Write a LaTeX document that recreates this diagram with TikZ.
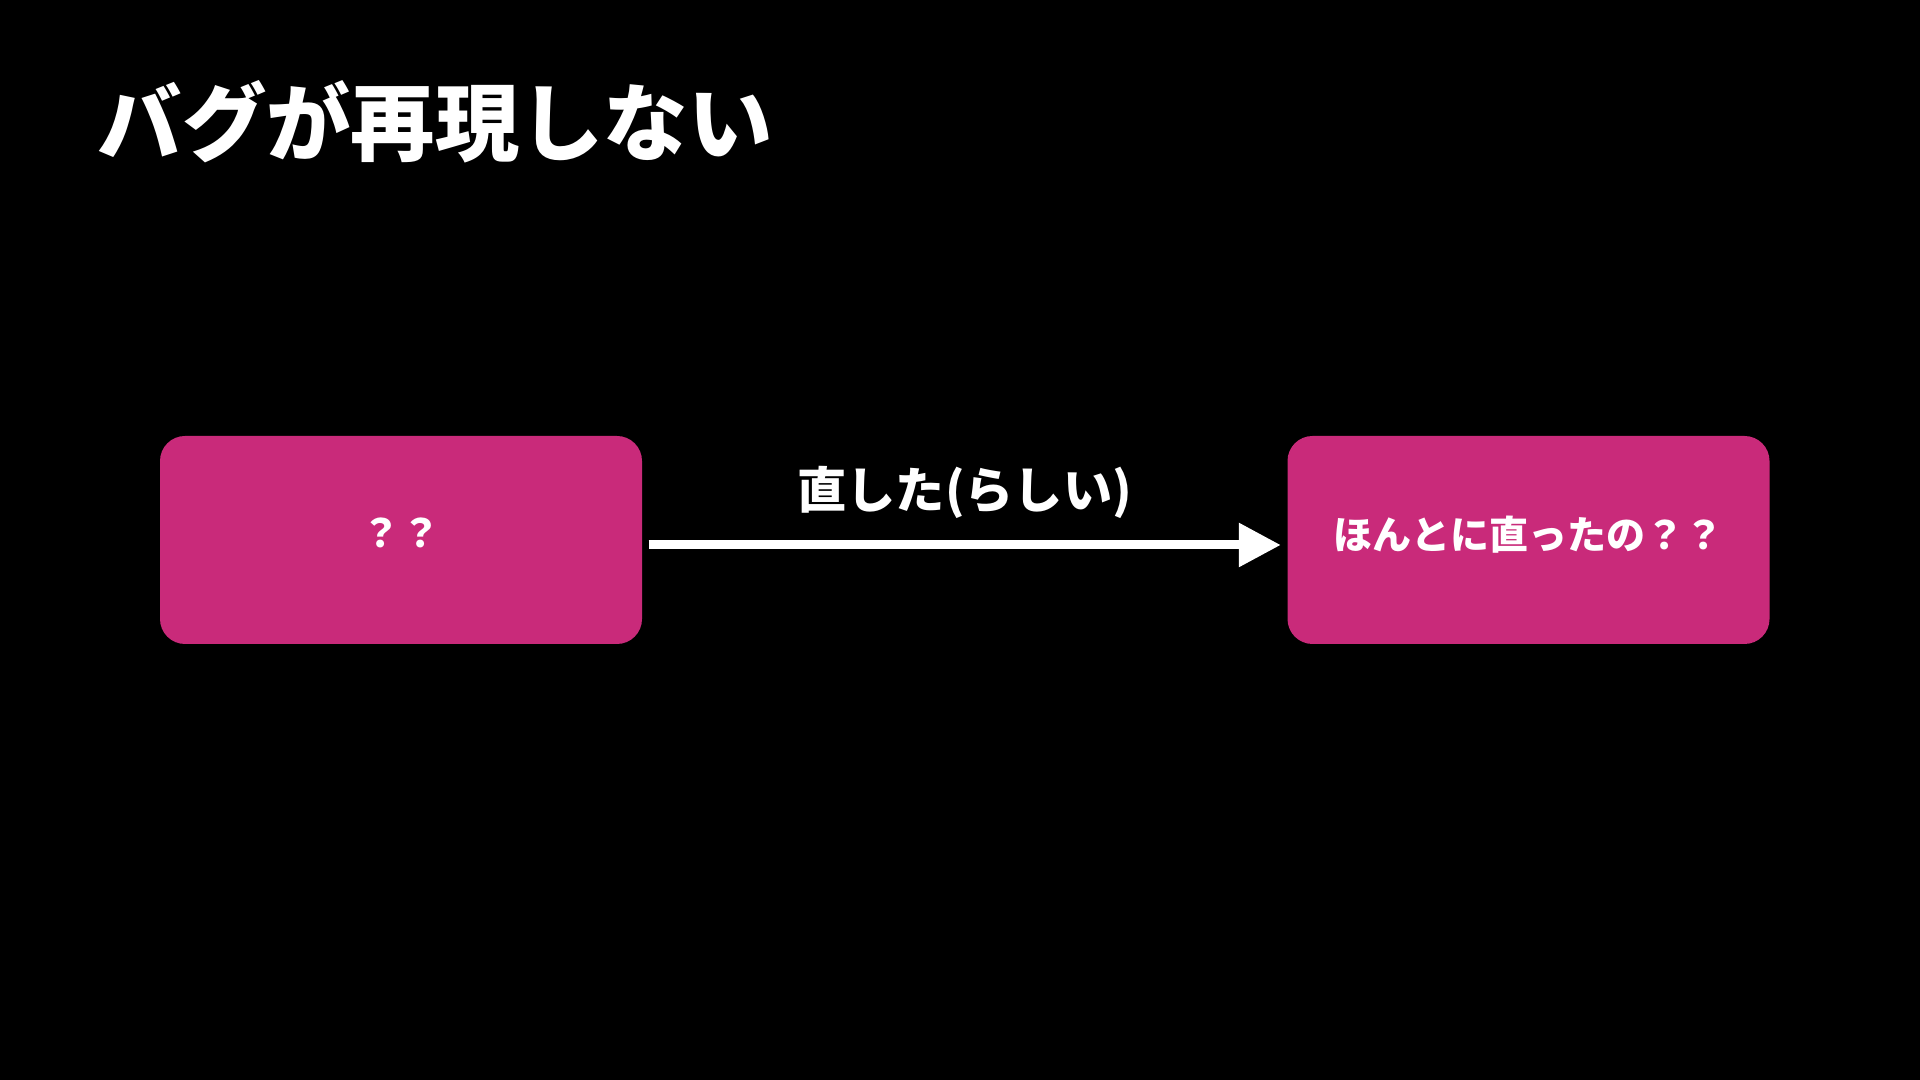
\documentclass[tikz,border=0pt]{standalone}
\usepackage{fontspec}
\newfontfamily\jpfont{Noto Sans CJK JP}
\usetikzlibrary{positioning,arrows.meta}
\definecolor{bugpink}{HTML}{C92A7A}

\begin{document}
\begin{tikzpicture}[font=\jpfont\bfseries,
  box/.style={rectangle, rounded corners=0.25cm, fill=bugpink, text=white, minimum width=4.82cm, minimum height=2.08cm, font=\jpfont\bfseries\fontsize{11.1}{13}\selectfont}]
\fill[black] (0,0) rectangle (19.2,10.8);
\node[anchor=west, text=white, inner sep=0pt, font=\jpfont\bfseries\fontsize{24}{28}\selectfont] (title) at (0.97,9.58) {バグが再現しない};
\node[box] (unknown) at (4.01,5.40) {\raisebox{0.14cm}{？？}};
\node[box] (fixed) at (15.285,5.40) {\raisebox{0.14cm}{ほんとに直ったの？？}};
% arrow
\draw[-{Triangle[length=0.42cm,width=0.42cm]}, white, line width=0.09cm] ([xshift=0.06cm,yshift=-0.05cm]unknown.east) -- node[above=0.1cm, text=white, font=\jpfont\bfseries\fontsize{14}{16}\selectfont] (fixlabel) {直した(らしい)} ([xshift=-0.06cm,yshift=-0.05cm]fixed.west);
\end{tikzpicture}
\end{document}
